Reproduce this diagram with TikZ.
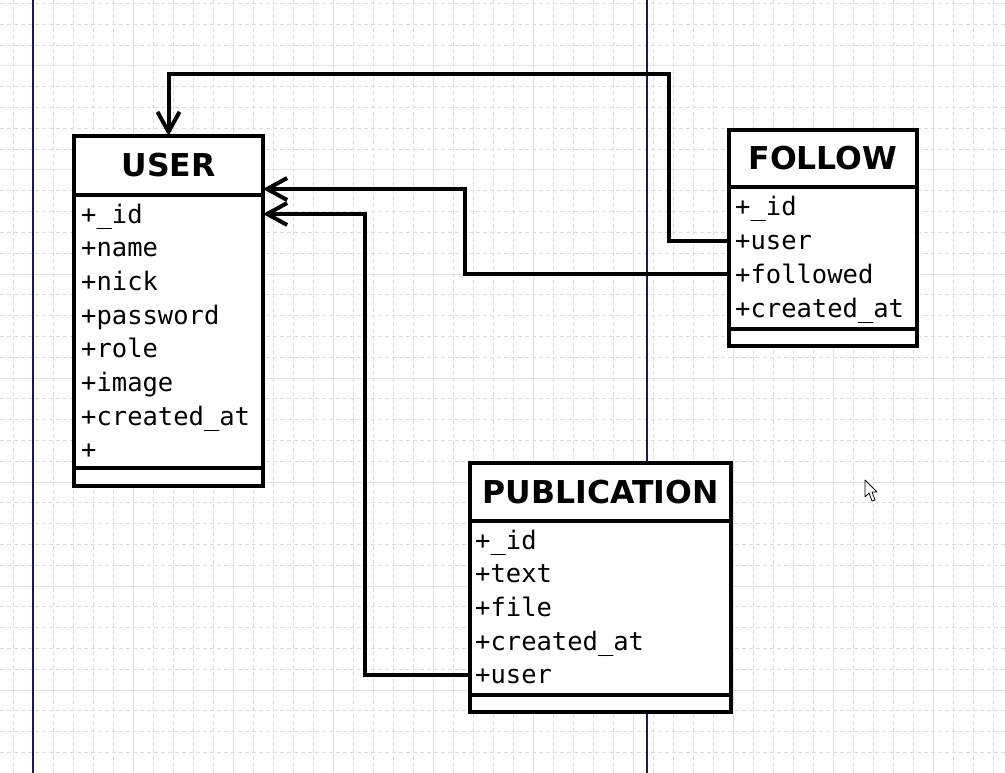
\documentclass[tikz,border=0pt]{standalone}
\usepackage{fontspec}
\usetikzlibrary{arrows.meta, positioning}
\setmonofont{DejaVu Sans Mono}
\newfontfamily\titlefont{DejaVu Sans}[BoldFont={DejaVu Sans Bold}]
\definecolor{gridminor}{HTML}{DDDDDD}
\definecolor{gridmajor}{HTML}{E2E2E2}
\definecolor{guide}{HTML}{1C1C4C}

\begin{document}
\begin{tikzpicture}[x=1pt,y=-1pt,
    >={Straight Barb[length=20pt,width=22pt]},
    classbox/.style={draw, line width=4pt, fill=white, inner sep=0pt, outer sep=0pt, anchor=north west},
    title/.style={font=\titlefont\bfseries\fontsize{31.5}{36}\selectfont, inner sep=0pt},
    row/.style={font=\ttfamily\fontsize{25.5}{30}\selectfont, inner sep=0pt,
      text height=22pt, text depth=4pt, text width=172pt, align=left},
    sep/.style={line width=4pt},
    assoc/.style={->, line width=4pt},
    node distance=7.3pt]
  \useasboundingbox (0,0) rectangle (1005,773);
  \fill[white] (0,0) rectangle (1005,773);
  % grid
  \foreach \gx in {13,33,...,1005}
    \draw[gridminor, line width=1pt, dash pattern=on 4pt off 3pt] (\gx,0) -- (\gx,773);
  \foreach \gk in {0,...,37}
    \draw[gridminor, line width=1pt, dash pattern=on 4pt off 3pt] (0,3.6+20.8*\gk) -- (1005,3.6+20.8*\gk);
  \foreach \gx in {133,233,...,933}
    \draw[gridmajor, line width=1pt] (\gx,0) -- (\gx,773);
  \foreach \gk in {0,...,6}
    \draw[gridmajor, line width=1pt] (0,66+104*\gk) -- (1005,66+104*\gk);
  \draw[guide, line width=1.3pt] (33,0) -- (33,773);
  \draw[guide, line width=1.3pt] (647,0) -- (647,773);

  % USER
  \node[classbox, minimum width=189pt, minimum height=350pt] (user) at (74,136) {};
  \node[title] (usertitle) at (168.5,165.5) {USER};
  \draw[sep] (user.west |- 0,195) -- (user.east |- 0,195);
  \draw[sep] (user.west |- 0,468) -- (user.east |- 0,468);
  \node[row, anchor=west] (uid) at (81,214) {+\_id};
  \node[row, below=of uid] (uname) {+name};
  \node[row, below=of uname] (unick) {+nick};
  \node[row, below=of unick] (upassword) {+password};
  \node[row, below=of upassword] (urole) {+role};
  \node[row, below=of urole] (uimage) {+image};
  \node[row, below=of uimage] (ucreated) {+created\_at};
  \node[row, below=of ucreated] (uplus) {+};

  % FOLLOW
  \node[classbox, minimum width=188pt, minimum height=216pt] (follow) at (729,130) {};
  \node[title] (followtitle) at (823,158.5) {FOLLOW};
  \draw[sep] (follow.west |- 0,187) -- (follow.east |- 0,187);
  \draw[sep] (follow.west |- 0,329) -- (follow.east |- 0,329);
  \node[row, anchor=west] (fid) at (735,207) {+\_id};
  \node[row, below=of fid] (fuser) {+user};
  \node[row, below=of fuser] (ffollowed) {+followed};
  \node[row, below=of ffollowed] (fcreated) {+created\_at};

  % PUBLICATION
  \node[classbox, minimum width=261pt, minimum height=249pt] (pub) at (470,463) {};
  \node[title] (pubtitle) at (600.5,492) {PUBLICATION};
  \draw[sep] (pub.west |- 0,521) -- (pub.east |- 0,521);
  \draw[sep] (pub.west |- 0,695) -- (pub.east |- 0,695);
  \node[row, anchor=west] (pid) at (475,540) {+\_id};
  \node[row, below=of pid] (ptext) {+text};
  \node[row, below=of ptext] (pfile) {+file};
  \node[row, below=of pfile] (pcreated) {+created\_at};
  \node[row, below=of pcreated] (puser) {+user};

  % associations
  \coordinate (b1) at (669,74);
  \coordinate (b2) at (465,189);
  \draw[assoc] (fuser -| follow.west) -| (b1) -| (user.north);
  \draw[assoc] (ffollowed -| follow.west) -| (b2) -- (b2 -| user.east);
  \draw[assoc] (puser -| pub.west) -| (uid -| 365,0) -- (uid -| user.east);

  % mouse pointer
  \draw[fill=white, line width=0.8pt, line join=round]
    (865,480) -- (865,497) -- (869,493) -- (872,501) -- (875,500) -- (872,492) -- (877,492) -- cycle;
\end{tikzpicture}
\end{document}
